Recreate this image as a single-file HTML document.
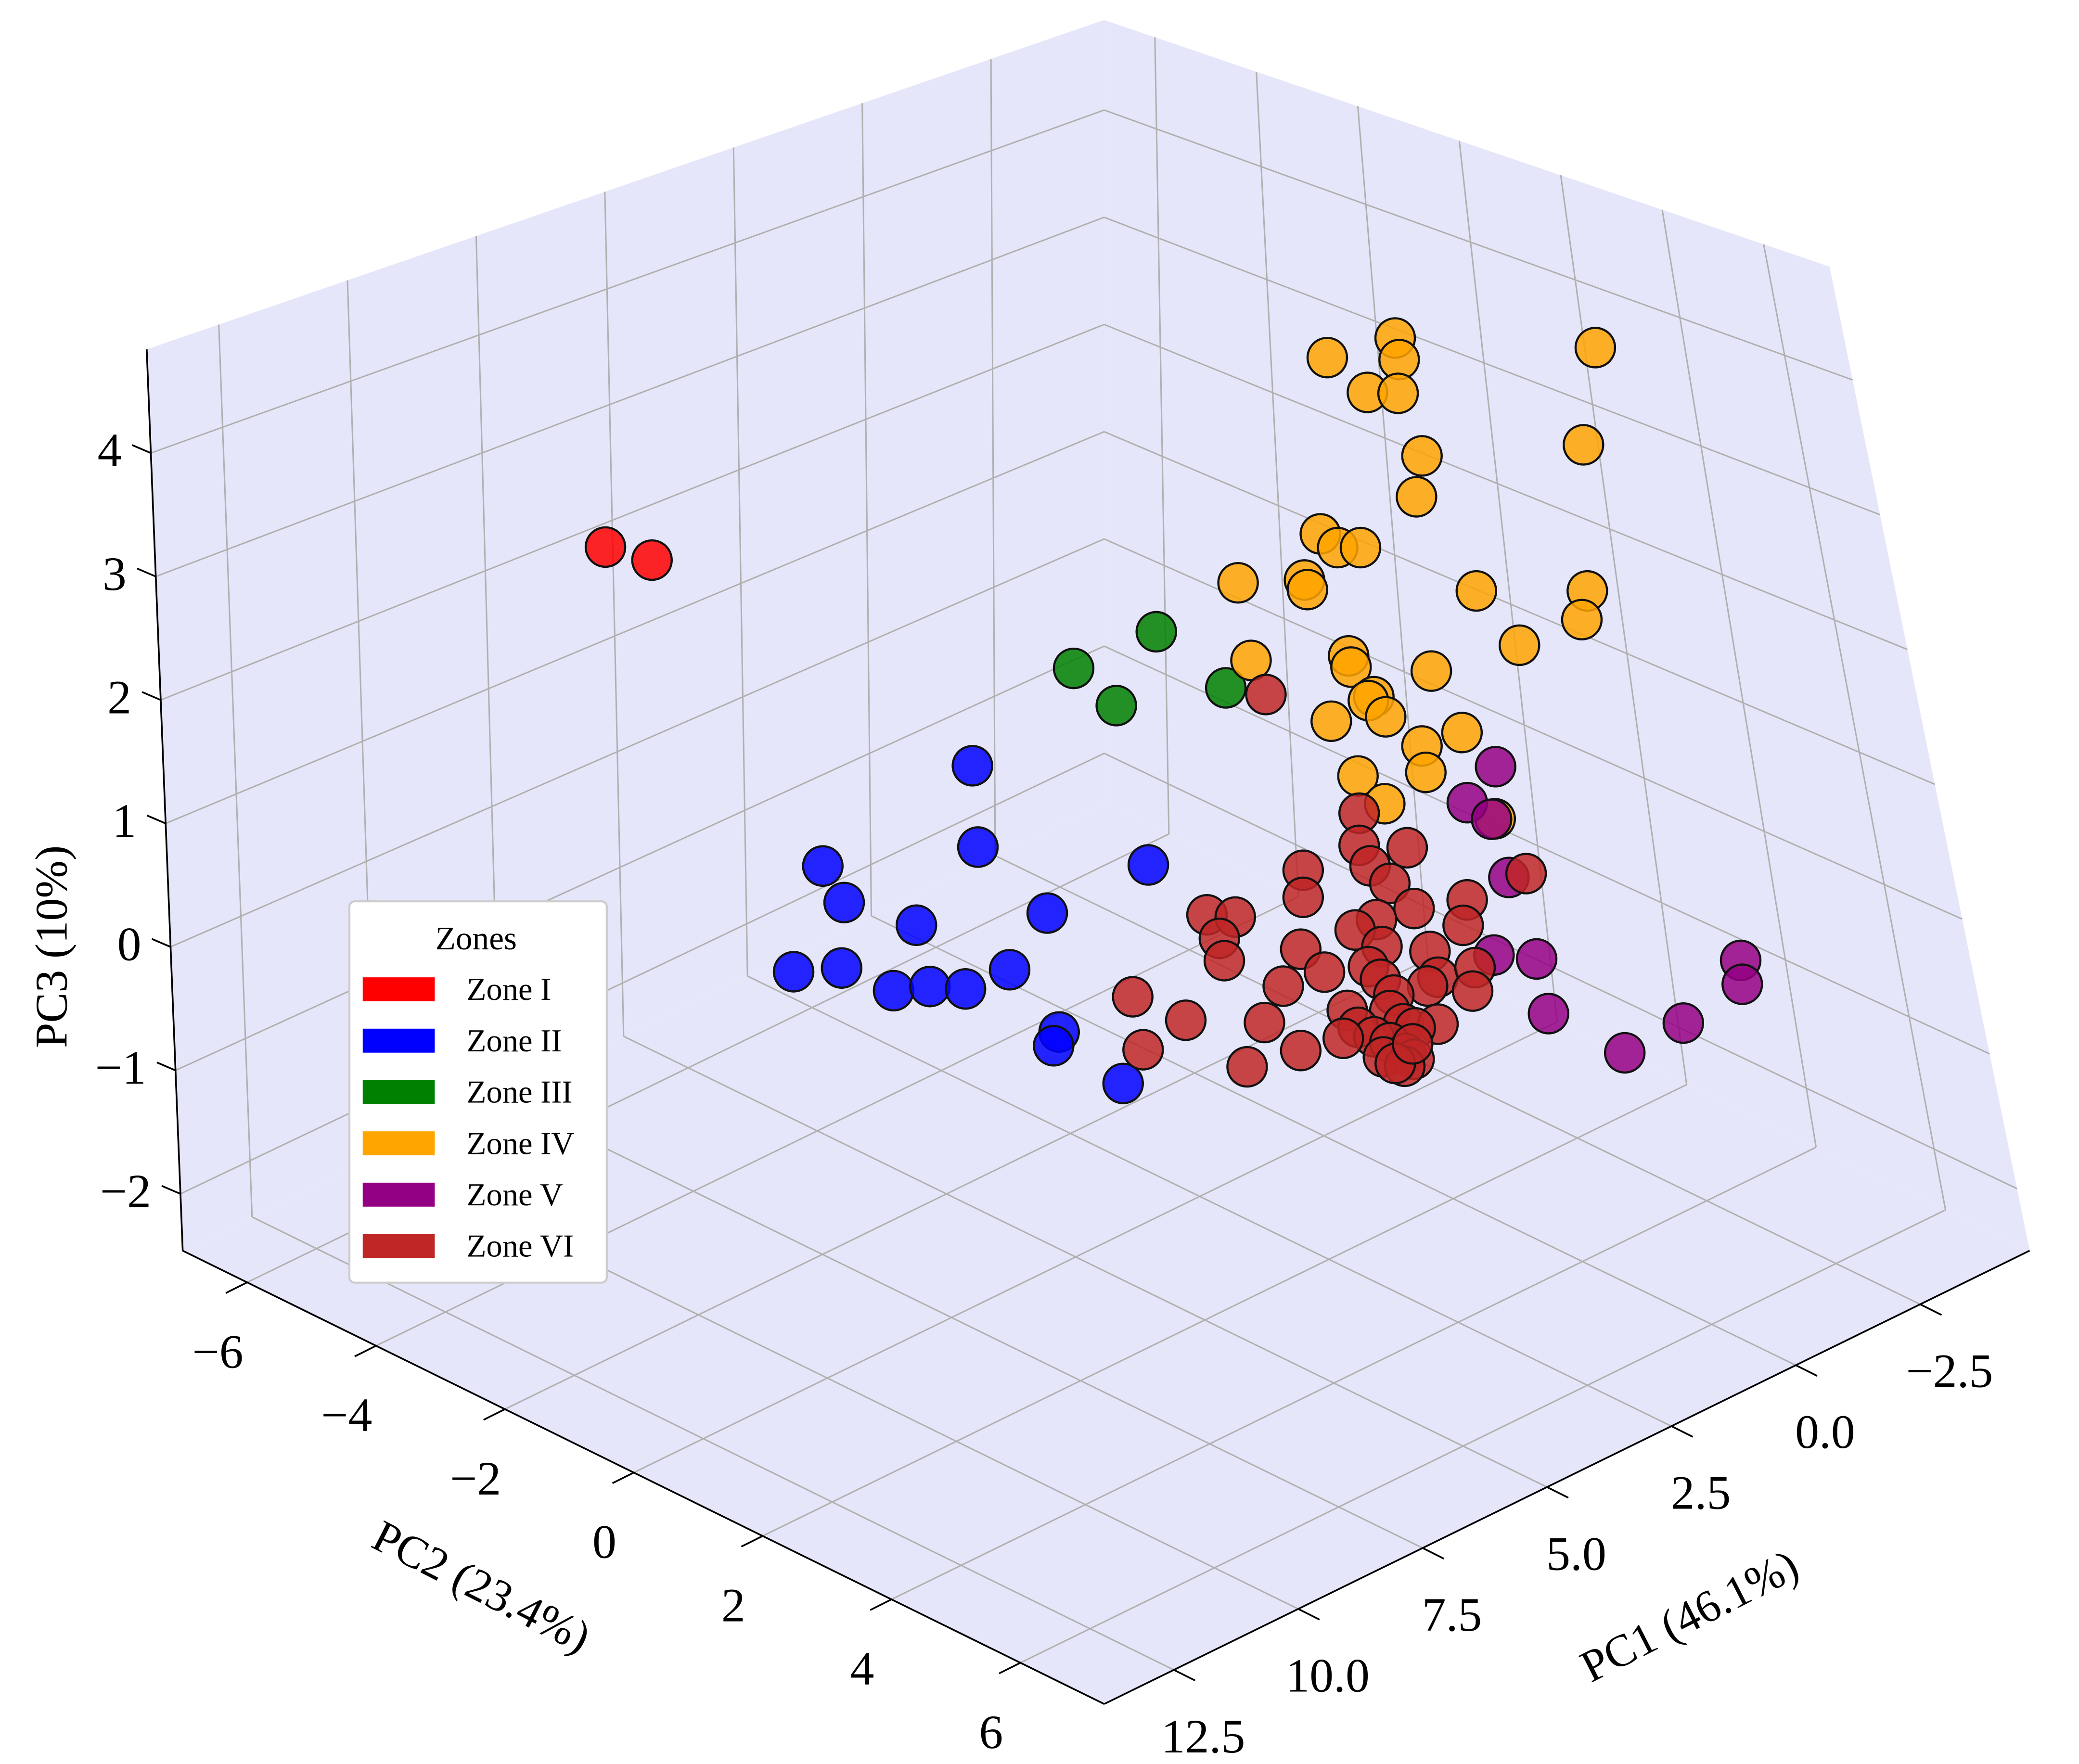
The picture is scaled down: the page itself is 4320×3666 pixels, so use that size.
<!DOCTYPE html>
<html><head><meta charset="utf-8"><style>
html,body{margin:0;padding:0;background:#fff;}
svg{display:block;font-family:"Liberation Serif","DejaVu Serif",serif;}
</style></head><body>
<svg id="chart" width="4320" height="3666" viewBox="0 0 1559 1323" xmlns="http://www.w3.org/2000/svg">
<rect x="0" y="0" width="1559" height="1323" fill="#ffffff"/>
<g id="panes"></g>
<g id="grid"></g>
<g id="axes"></g>
<g id="points"></g>
<g id="legend">
  <rect x="262" y="676" width="193" height="286" rx="4" fill="#ffffff" stroke="#cccccc" stroke-width="1.5"/>
  <text x="357" y="712" font-size="25" text-anchor="middle">Zones</text>
</g>
<text x="0" y="0" font-size="34" text-anchor="middle" transform="translate(50,710) rotate(-90)">PC3 (10%)</text>
<text x="0" y="0" font-size="34" text-anchor="middle" transform="translate(356,1200) rotate(27)">PC2 (23.4%)</text>
<text x="0" y="0" font-size="34" text-anchor="middle" transform="translate(1272,1222) rotate(-27)">PC1 (46.1%)</text>
</svg>
<script>
// ---- data ----
const zoneNames = ["Zone I","Zone II","Zone III","Zone IV","Zone V","Zone VI"];
const zoneColors = ["#ff0000","#0000ff","#008000","#ffa500","#940084","#bf2626"];
const pc1Ticks = [12.5,10.0,7.5,5.0,2.5,0.0,-2.5];
const pc1TickLabels = ["12.5","10.0","7.5","5.0","2.5","0.0","\u22122.5"];
const pc2Ticks = [-6,-4,-2,0,2,4,6];
const pc2TickLabels = ["\u22126","\u22124","\u22122","0","2","4","6"];
const pc3Ticks = [4,3,2,1,0,-1,-2];
const pc3TickLabels = ["4","3","2","1","0","\u22121","\u22122"];

const zone1PC1 = [7.90,6.96];
const zone1PC2 = [-5,-5];
const zone1PC3 = [2.55,2.26];

const zone2PC1 = [4.41,7.43,4.30,0.86,7.00,5.54,2.90,8.02,7.05,6.00,5.27,4.55,3.66,2.66,2.77,1.37];
const zone2PC2 = [-2,-2,-2,-2,-2,-2,-2,-2,-2,-2,-2,-2,-2,-2,-2,-2];
const zone2PC3 = [0.86,0.64,0.18,-0.64,0.26,-0.21,-0.63,-0.10,-0.26,-0.65,-0.76,-0.92,-0.94,-1.64,-1.73,-2.31];

const zone3PC1 = [3.31,4.98,4.12,1.91];
const zone3PC2 = [0,0,0,0];
const zone3PC3 = [2.24,2.27,1.80,1.51];

const zone4PC1 = [0.45,1.82,0.37,-3.59,1.01,0.39,-3.35,-0.09,0.02,1.96,1.61,1.15,3.62,2.28,2.22,-1.19,-3.43,-3.32,-2.06,3.36,1.39,1.34,-0.28,0.88,0.99,0.64,1.74,-0.90,-0.09,-0.17,1.20,0.66,-1.57];
const zone4PC2 = [1.5,1.5,1.5,1.5,1.5,1.5,1.5,1.5,1.5,1.5,1.5,1.5,1.5,1.5,1.5,1.5,1.5,1.5,1.5,1.5,1.5,1.5,1.5,1.5,1.5,1.5,1.5,1.5,1.5,1.5,1.5,1.5,1.5];
const zone4PC3 = [4.44,4.55,4.25,3.57,4.11,3.98,2.83,3.38,3.07,3.15,2.97,2.88,3.08,2.84,2.75,2.07,1.63,1.42,1.46,2.40,2.05,1.95,1.60,1.62,1.61,1.41,1.59,0.98,1.03,0.80,1.04,0.71,0.15];

const zone5PC1 = [1.69,2.26,1.77,1.42,1.72,0.86,-3.26,-3.29,0.62,-2.10,-0.92];
const zone5PC2 = [4,4,4,4,4,4,4,4,4,4,4];
const zone5PC3 = [1.85,1.67,1.44,0.90,0.33,0.13,-0.69,-0.89,-0.36,-0.97,-0.98];

const zone6PC1 = [3.71,1.83,0.86,1.83,1.61,2.96,1.21,-1.54,2.96,-0.35,0.72,4.90,4.33,1.48,-0.27,4.65,1.91,1.37,3.01,4.55,0.40,1.64,2.53,0.24,-0.51,1.40,0.45,3.36,1.13,-0.46,6.40,1.21,2.07,1.85,0.94,0.24,5.33,3.74,0.70,1.53,1.21,2.15,0.89,3.01,6.19,1.34,0.72,0.91,4.09,1.10,0.75];
const zone6PC2 = [2,2,2,2,2,2,2,2,2,2,2,2,2,2,2,2,2,2,2,2,2,2,2,2,2,2,2,2,2,2,2,2,2,2,2,2,2,2,2,2,2,2,2,2,2,2,2,2,2,2,2];
const zone6PC3 = [2.32,0.99,0.52,0.73,0.52,0.75,0.30,-0.16,0.53,-0.14,0.00,0.77,0.64,0.06,-0.33,0.53,0.06,-0.18,0.12,0.33,-0.41,-0.29,-0.16,-0.65,-0.72,-0.44,-0.68,-0.11,-0.62,-0.90,0.40,-0.73,-0.56,-0.74,-0.89,-1.03,0.00,-0.33,-0.97,-0.88,-0.99,-0.77,-1.14,-0.70,-0.07,-1.08,-1.22,-1.24,-0.62,-1.18,-1.09];

// ---- axis functions ----
const PC1_MIN=-4.7, PC1_R=18.6, PC2_MIN=-7, PC2_R=14.3, PC3_MIN=-2.46, PC3_R=7.3;
const C = {back:[828,602], left:[137,938], right:[1522,938], front:[828,1278],
           backTop:[828,15], leftTop:[110,262], rightTop:[1372,200]};
function lerp(a,b,f){return [a[0]+(b[0]-a[0])*f, a[1]+(b[1]-a[1])*f];}
function tOf(pc1){return (pc1-PC1_MIN)/PC1_R;}
function sOf(pc2){return (pc2-PC2_MIN)/PC2_R;}
function uOf(pc3){return (pc3-PC3_MIN)/PC3_R;}
function floorPt(t,s){
  const a=lerp(C.back,C.left,t), b=lerp(C.right,C.front,t);
  return lerp(a,b,s);
}
function project(pc1,pc2,pc3){
  const t=tOf(pc1), s=sOf(pc2), u=uOf(pc3);
  return [825-691*t+694*s, 598+338*t+338*s-676*u];
}
const NS="http://www.w3.org/2000/svg";
function mk(tag,attrs,parent){const e=document.createElementNS(NS,tag);for(const k in attrs)e.setAttribute(k,attrs[k]);parent.appendChild(e);return e;}
const panes=document.getElementById('panes'), grid=document.getElementById('grid'), axes=document.getElementById('axes'), pts=document.getElementById('points'), legend=document.getElementById('legend');
const pts2s=a=>a.map(p=>p[0].toFixed(1)+','+p[1].toFixed(1)).join(' ');

let e;
e=mk('polygon',{points:pts2s([C.left,C.back,C.right,C.front]),fill:'#e6e6fa'},panes);


e=mk('polygon',{points:pts2s([C.leftTop,C.backTop,C.back,C.left]),fill:'#e6e6fa'},panes);


e=mk('polygon',{points:pts2s([C.backTop,C.rightTop,C.right,C.back]),fill:'#e6e6fa'},panes);



const gs={stroke:'#b0b0b0','stroke-width':1.1,fill:'none'};
function line(p,q,parent,extra){return mk('line',Object.assign({x1:p[0],y1:p[1],x2:q[0],y2:q[1]},extra||gs),parent);}
pc1Ticks.forEach(v=>{
  const t=tOf(v);
  e=line(lerp(C.back,C.left,t),lerp(C.backTop,C.leftTop,t),grid);
  
  
  e=line(floorPt(t,0),floorPt(t,1),grid);
  
  
});
pc2Ticks.forEach(v=>{
  const s=sOf(v);
  e=line(lerp(C.back,C.right,s),lerp(C.backTop,C.rightTop,s),grid);
  
  
  e=line(floorPt(0,s),floorPt(1,s),grid);
  
  
});
pc3Ticks.forEach(v=>{
  const u=uOf(v);
  const b=lerp(C.back,C.backTop,u);
  e=line(lerp(C.left,C.leftTop,u),b,grid);
  
  
  e=line(b,lerp(C.right,C.rightTop,u),grid);
  
  
});

const as={stroke:'#000','stroke-width':1.3};
e=line(C.left,C.front,axes,as);


e=line(C.front,C.right,axes,as);


e=line(C.left,C.leftTop,axes,as);



pc2Ticks.forEach((v,i)=>{
  const p=floorPt(1,sOf(v));
  e=line(p,[p[0]-16,p[1]+8],axes,as);
  
  
  e=mk('text',{x:p[0]-22,y:p[1]+64,'font-size':36,'text-anchor':'middle'},axes);
  e.textContent=pc2TickLabels[i];
  
  
});
pc1Ticks.forEach((v,i)=>{
  const p=floorPt(tOf(v),1);
  e=line(p,[p[0]+16,p[1]+8],axes,as);
  
  
  e=mk('text',{x:p[0]+22,y:p[1]+62,'font-size':36,'text-anchor':'middle'},axes);
  e.textContent=pc1TickLabels[i];
  
  
});
pc3Ticks.forEach((v,i)=>{
  const p=lerp(C.left,C.leftTop,uOf(v));
  e=line(p,[p[0]-14,p[1]-6],axes,as);
  
  
  e=mk('text',{x:p[0]-22,y:p[1]+10,'font-size':36,'text-anchor':'end'},axes);
  e.textContent=pc3TickLabels[i];
  
  
});

const zones=[[zone1PC1,zone1PC2,zone1PC3],[zone2PC1,zone2PC2,zone2PC3],[zone3PC1,zone3PC2,zone3PC3],[zone4PC1,zone4PC2,zone4PC3],[zone5PC1,zone5PC2,zone5PC3],[zone6PC1,zone6PC2,zone6PC3]];
zones.forEach((z,zi)=>{
  z[0].forEach((v,i)=>{
    const p=project(z[0][i],z[1][i],z[2][i]);
    e=mk('circle',{cx:p[0].toFixed(1),cy:p[1].toFixed(1),r:14.8,fill:zoneColors[zi],'fill-opacity':0.85,stroke:'#111','stroke-width':1.6},pts);
    
    
  });
});

zoneNames.forEach((n,i)=>{
  const y=733+i*38.5;
  e=mk('rect',{x:272,y:y,width:54,height:18,fill:zoneColors[i]},legend);
  
  
  e=mk('text',{x:350,y:y+17,'font-size':24},legend);
  e.textContent=n;
  
  
});
</script>
</body></html>
